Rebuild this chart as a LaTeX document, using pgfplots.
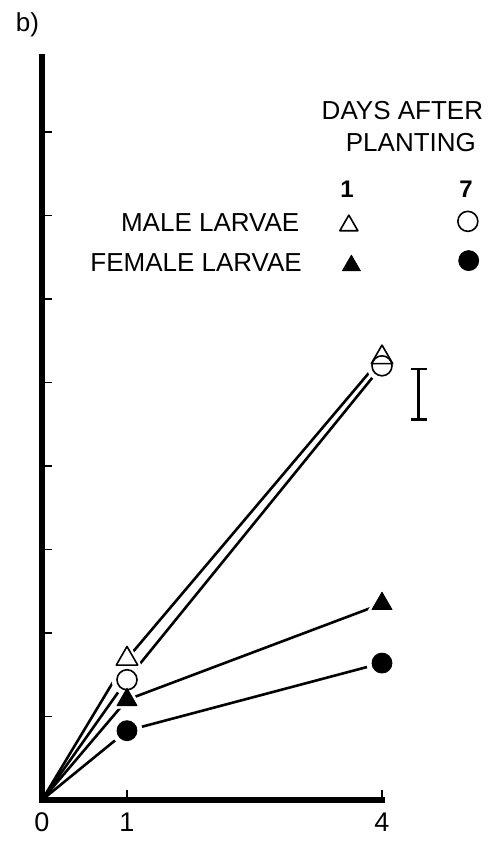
\documentclass[border=0pt]{standalone}
\usepackage{pgfplots}
\pgfplotsset{compat=1.18}
\usepackage{fontspec}
\setmainfont{Liberation Sans}

\begin{document}
\begin{tikzpicture}
\begin{axis}[
  anchor=origin, at={(0,0)},
  x=42.5pt, y=41.75pt,
  xmin=0, xmax=4, ymin=0, ymax=8.9,
  clip=false,
  axis lines=left,
  axis line style={-, line width=2.7pt, line cap=rect},
  xtick={0,1,4}, xticklabels={0,1,4},
  ytick={1,2,3,4,5,6,7,8}, yticklabels={},
  tick align=inside,
  major tick length=5pt,
  tick style={black, line width=0.8pt},
  /pgf/number format/assume math mode=true,
  tick label style={font=\fontsize{13.5}{15}\selectfont},
  xticklabel style={yshift=-3pt},
  every axis plot/.append style={line join=round},
]

% growth lines from planting (0,0)
\addplot[black, line width=1.3pt] coordinates {(0,0) (1,1.69) (4,5.30)};
\addplot[black, line width=1.3pt] coordinates {(0,0) (1,1.44) (4,5.20)};
\addplot[black, line width=1.3pt] coordinates {(0,0) (1,1.20) (4,2.35)};
\addplot[black, line width=1.3pt] coordinates {(0,0) (1,0.83) (4,1.64)};

% white halos around the markers
\addplot[only marks, mark=triangle*, mark size=9pt, draw=white, fill=white] coordinates {(1,1.69) (4,5.30)};
\addplot[only marks, mark=*, mark size=7.5pt, draw=white, fill=white] coordinates {(1,1.44) (4,5.20)};
\addplot[only marks, mark=triangle*, mark size=8.5pt, draw=white, fill=white] coordinates {(1,1.20) (4,2.35)};
\addplot[only marks, mark=*, mark size=7.5pt, draw=white, fill=white] coordinates {(1,0.83) (4,1.64)};

% markers
\addplot[only marks, mark=triangle*, mark size=6.2pt, mark options={draw=black, fill=white, line width=0.8pt}] coordinates {(1,1.69) (4,5.30)};
\addplot[only marks, mark=*, mark size=5pt, mark options={draw=black, fill=white, line width=0.8pt}] coordinates {(1,1.44)};
\addplot[only marks, mark=o, mark size=5pt, mark options={draw=black, line width=0.8pt}] coordinates {(4,5.20)};
\addplot[only marks, mark=triangle*, mark size=5.8pt, mark options={draw=black, fill=black}] coordinates {(1,1.20) (4,2.35)};
\addplot[only marks, mark=*, mark size=5pt, mark options={draw=black, fill=black}] coordinates {(1,0.83) (4,1.64)};

% standard error bar
\addplot[black, line width=1.2pt, mark=none,
  error bars/.cd, y dir=both, y explicit,
  error bar style={line width=1.2pt},
  error mark options={rotate=90, mark size=4pt, line width=1.2pt}]
  coordinates {(4.43,4.86) +- (0,0.305)};

% key symbols
\addplot[only marks, mark=triangle*, mark size=5.2pt, mark options={draw=black, fill=white, line width=0.8pt}] coordinates {(3.61,6.88)};
\addplot[only marks, mark=*, mark size=5pt, mark options={draw=black, fill=white, line width=0.8pt}] coordinates {(5.01,6.93)};
\addplot[only marks, mark=triangle*, mark size=5.2pt, mark options={draw=black, fill=black}] coordinates {(3.64,6.40)};
\addplot[only marks, mark=*, mark size=5pt, mark options={draw=black, fill=black}] coordinates {(5.02,6.46)};

% key text
\node[font=\fontsize{13}{15}\selectfont] at (axis cs:4.24,8.26) {DAYS AFTER};
\node[font=\fontsize{13}{15}\selectfont] at (axis cs:4.34,7.87) {PLANTING};
\node[font=\fontsize{12}{14}\selectfont\bfseries] at (axis cs:3.59,7.31) {1};
\node[font=\fontsize{12}{14}\selectfont\bfseries] at (axis cs:4.99,7.31) {7};
\node[anchor=east, font=\fontsize{13}{15}\selectfont] at (axis cs:3.11,6.91) {MALE LARVAE};
\node[anchor=east, font=\fontsize{13}{15}\selectfont] at (axis cs:3.14,6.44) {FEMALE LARVAE};

% panel label
\node[font=\fontsize{13}{15}\selectfont] at (axis cs:-0.17,9.28) {b)};
\end{axis}
\useasboundingbox (-21pt,-21.5pt) rectangle (227.5pt,400pt);
\end{tikzpicture}
\end{document}
